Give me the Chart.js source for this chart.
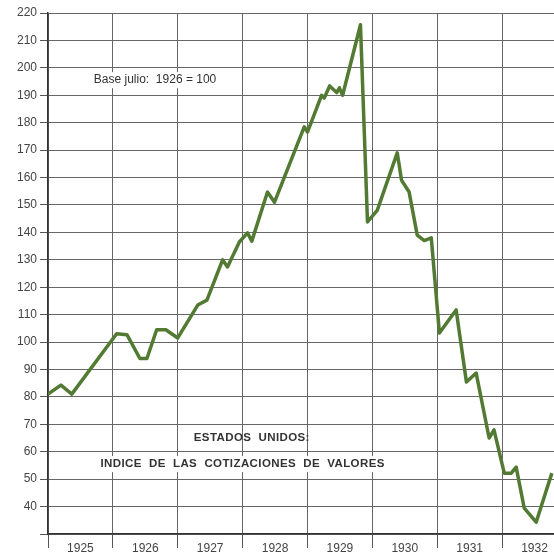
<!DOCTYPE html>
<html>
<head>
<meta charset="utf-8">
<script src="https://cdn.jsdelivr.net/npm/chart.js@4/dist/chart.umd.min.js"></script>
<style>
  body { margin: 0; background: #fff; }
  #wrap { width: 554px; height: 556px; }
</style>
</head>
<body>
<div id="wrap"><canvas id="cotizaciones" width="554" height="556"></canvas></div>
<script>
// months counted from January 1925
var months = [0, 2.4, 4.4, 12.7, 14.6, 17.0, 18.3, 20.1, 21.8, 24.0,
    27.7, 29.4, 32.3, 33.2, 35.4, 36.9, 37.7, 40.6, 41.9, 47.4,
    48.0, 50.6, 51.1, 52.1, 53.4, 53.9, 54.5, 57.8, 59.1, 60.9,
    64.6, 65.4, 66.8, 68.3, 69.6, 70.9, 72.4, 75.5, 77.4, 79.2,
    81.6, 82.5, 84.4, 85.7, 86.6, 88.1, 90.3, 93.2];
var indexValues = [81, 84.3, 81, 103, 102.7, 94, 94, 104.5, 104.5, 101.5,
    113.5, 115.3, 130, 127.4, 136.5, 139.8, 136.8, 154.7, 151, 178.5,
    176.6, 190, 189, 193.4, 191, 192.7, 190, 215.7, 143.8, 148,
    169, 159, 154.7, 139, 137, 138, 103.3, 111.7, 85.4, 88.7,
    65, 68, 52.2, 52.2, 54.4, 39.4, 34.3, 52.2];
var years = [1925, 1926, 1927, 1928, 1929, 1930, 1931, 1932];
var yTicks = [30, 40, 50, 60, 70, 80, 90, 100, 110, 120, 130, 140, 150, 160, 170, 180, 190, 200, 210, 220];

var points = months.map(function (m, i) { return { x: m, y: indexValues[i] }; });

var gridColor = '#666';
var axisColor = '#333';

var textPlugin = {
    id: 'textos',
    beforeDatasetsDraw: function (chart) {
        var ctx = chart.ctx;
        var xs = chart.scales.x, ys = chart.scales.y;
        function label(str, mx, vy, font, bg, spacing) {
            ctx.save();
            ctx.font = font;
            ctx.letterSpacing = spacing || '0px';
            ctx.textAlign = 'center';
            ctx.textBaseline = 'middle';
            var px = xs.getPixelForValue(mx), py = ys.getPixelForValue(vy);
            var w = ctx.measureText(str).width;
            if (bg) {
                ctx.fillStyle = '#fff';
                ctx.fillRect(px - w / 2 - 4, py - 8, w + 8, 16);
            }
            ctx.fillStyle = '#333';
            ctx.fillText(str, px, py);
            ctx.restore();
        }
        label('Base julio:  1926 = 100', 19.8, 195.5, '12px "Liberation Sans", Arial, sans-serif', true);
        label('ESTADOS  UNIDOS:', 37.7, 65, 'bold 11.5px "Liberation Sans", Arial, sans-serif', false, '0.4px');
        label('INDICE  DE  LAS  COTIZACIONES  DE  VALORES', 36, 55.5, 'bold 11.5px "Liberation Sans", Arial, sans-serif', true, '0.4px');
    }
};

var ctx = document.getElementById('cotizaciones').getContext('2d');
var chart = new Chart(ctx, {
    type: 'line',
    data: {
        datasets: [{
            data: points,
            borderColor: '#527a33',
            borderWidth: 3.5,
            borderJoinStyle: 'round',
            pointRadius: 0,
            tension: 0,
            fill: false
        }]
    },
    options: {
        responsive: false,
        animation: false,
        layout: { padding: { top: 13, right: 0, left: 0, bottom: 0 } },
        plugins: { legend: { display: false }, tooltip: { enabled: false } },
        scales: {
            x: {
                type: 'linear',
                min: 0,
                max: 93.6,
                afterBuildTicks: function (scale) {
                    var t = [];
                    for (var v = 0; v <= 90; v += 6) t.push({ value: v });
                    scale.ticks = t;
                },
                afterFit: function (scale) { scale.height = 22; },
                grid: {
                    color: function (c) { return c.tick && c.tick.value % 12 === 0 ? gridColor : 'rgba(0,0,0,0)'; },
                    tickColor: function (c) { return c.tick && c.tick.value % 12 === 0 ? '#555' : 'rgba(0,0,0,0)'; },
                    tickLength: 14,
                    lineWidth: 1
                },
                border: { color: axisColor, width: 1.5 },
                ticks: {
                    autoSkip: false,
                    maxRotation: 0,
                    padding: -7,
                    color: '#444',
                    font: { family: '"Liberation Sans", Arial, sans-serif', size: 12 },
                    callback: function (v) {
                        return v % 12 === 6 ? String(years[(v - 6) / 12]) : '';
                    }
                }
            },
            y: {
                min: 30,
                max: 220,
                afterBuildTicks: function (scale) {
                    scale.ticks = yTicks.map(function (v) { return { value: v }; });
                },
                afterFit: function (scale) { scale.width = 48; },
                grid: { color: gridColor, tickColor: '#555', tickLength: 8, lineWidth: 1 },
                border: { color: axisColor, width: 1.5 },
                ticks: {
                    padding: 3,
                    color: '#444',
                    font: { family: '"Liberation Sans", Arial, sans-serif', size: 12 },
                    callback: function (v) { return v === 30 ? '' : v; }
                }
            }
        }
    },
    plugins: [textPlugin]
});
</script>
</body>
</html>
